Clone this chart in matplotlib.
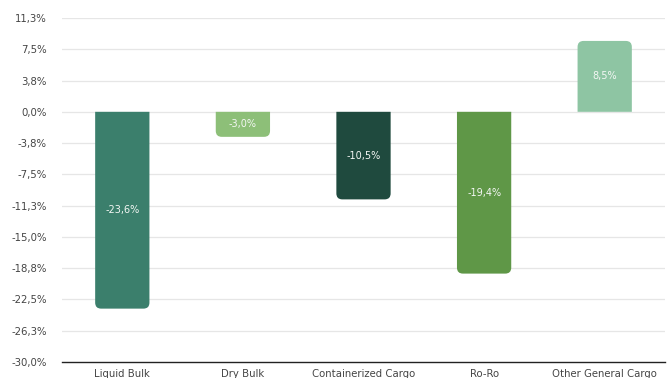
import matplotlib
matplotlib.use("Agg")
import matplotlib.pyplot as plt
from matplotlib.patches import PathPatch
from matplotlib.path import Path
from decimal import Decimal, ROUND_HALF_UP

plt.rcParams["font.family"] = ["DejaVu Sans"]

categories = ["Liquid Bulk", "Dry Bulk", "Containerized Cargo", "Ro-Ro", "Other General Cargo"]
values = [-23.6, -3.0, -10.5, -19.4, 8.5]
colors = ["#3b7f6c", "#8dbf78", "#1f4a3e", "#5f9747", "#8ec5a3"]
yticks = [11.25, 7.5, 3.75, 0.0, -3.75, -7.5, -11.25, -15.0, -18.75, -22.5, -26.25, -30.0]


def pct(v):
    d = Decimal(str(v)).quantize(Decimal("0.1"), rounding=ROUND_HALF_UP)
    return f"{d}".replace(".", ",") + "%"


def rounded_bar_path(x0, w, val, rx, ry):
    """Bar from 0 to val, with rounded corners only at the outer end."""
    x1 = x0 + w
    s = -1 if val < 0 else 1
    end = val
    verts = [
        (x0, 0), (x1, 0),
        (x1, end - s * ry),
        (x1, end), (x1 - rx, end),
        (x0 + rx, end),
        (x0, end), (x0, end - s * ry),
        (x0, 0),
    ]
    codes = [Path.MOVETO, Path.LINETO, Path.LINETO,
             Path.CURVE3, Path.CURVE3, Path.LINETO,
             Path.CURVE3, Path.CURVE3, Path.CLOSEPOLY]
    return Path(verts, codes)


fig = plt.figure(figsize=(6.67, 3.78), dpi=100)
ax = fig.add_axes([62 / 667, 16 / 378, 603 / 667, 344 / 378])
ax.set_xlim(-0.5, len(categories) - 0.5)
ax.set_ylim(-30, 11.25)

for t in yticks:
    if t != -30:
        ax.axhline(t, color="#e6e6e6", lw=0.9, zorder=0)
ax.axhline(-30, color="#222222", lw=1.0, zorder=3, clip_on=False)

bars = ax.bar(range(len(categories)), values, width=0.45, color=colors, zorder=2)

x_per_px = 5 / 603
y_per_px = 41.25 / 344
radius_px = 6
for bar, val, col in zip(bars, values, colors):
    bar.set_visible(False)
    x0, w = bar.get_x(), bar.get_width()
    path = rounded_bar_path(x0, w, val, radius_px * x_per_px, radius_px * y_per_px)
    ax.add_patch(PathPatch(path, fc=col, ec="none", zorder=2))
    ax.text(x0 + w / 2, val / 2, pct(val), ha="center", va="center",
            color="#f4f7f4", fontsize=7, zorder=4)

ax.set_yticks(yticks)
ax.set_yticklabels([pct(t) for t in yticks])
ax.set_xticks(range(len(categories)))
ax.set_xticklabels(categories)
ax.tick_params(axis="both", length=0, labelsize=7.3, colors="#444444")
ax.tick_params(axis="y", pad=11)
ax.tick_params(axis="x", pad=5)
for s in ax.spines.values():
    s.set_visible(False)

fig.savefig("out.png", dpi=100, facecolor="white")
